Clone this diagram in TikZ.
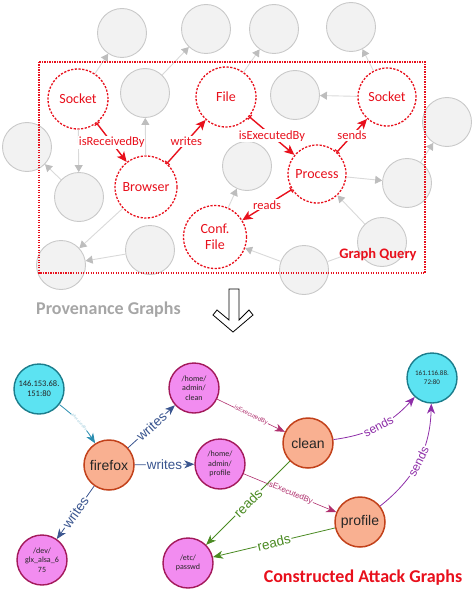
\documentclass[tikz,border=0pt]{standalone}
\usepackage{fontspec}
\setmainfont{Carlito}
\newfontfamily\arialf{Liberation Sans}
\usetikzlibrary{arrows.meta}
\definecolor{gfill}{HTML}{F2F2F2}
\definecolor{gdraw}{HTML}{C9C9C9}
\definecolor{gline}{HTML}{D9D9D9}
\definecolor{gtip}{HTML}{BDBDBD}
\definecolor{qred}{HTML}{E8101C}
\definecolor{cyfill}{HTML}{5CE3F2}
\definecolor{cydraw}{HTML}{1B7D8C}
\definecolor{pkfill}{HTML}{F28CF0}
\definecolor{pkdraw}{HTML}{A3195B}
\definecolor{orfill}{HTML}{F9B091}
\definecolor{ordraw}{HTML}{C2411A}
\definecolor{tealc}{HTML}{2A8DB0}
\definecolor{bluec}{HTML}{3A558F}
\definecolor{magc}{HTML}{B0306E}
\definecolor{purc}{HTML}{8E2EA8}
\definecolor{grnc}{HTML}{4A8A22}
\definecolor{provc}{HTML}{A6A6A6}
\begin{document}
\begin{tikzpicture}[x=1pt,y=1pt,
 gc/.style={circle,draw=gdraw,fill=gfill,line width=0.9pt,minimum size=49pt,inner sep=0pt},
 rq/.style={circle,draw=qred,fill=white,line width=1.3pt,dash pattern=on 2.2pt off 1.5pt,inner sep=0pt,text=qred,font=\fontsize{14}{16}\selectfont,align=center},
 garr/.style={draw=gline,line width=0.9pt,-{Triangle[length=7pt,width=8pt,color=gtip]}},
 rarr/.style={draw=qred,line width=1.4pt,{Bar[width=6pt,line width=1.2pt]}-{Stealth[length=10pt,width=9pt,inset=2.5pt]}},
 rlab/.style={fill=white,inner sep=1pt,text=qred,font=\fontsize{12.5}{12.5}\selectfont},
 cyn/.style={circle,fill=cyfill,draw=cydraw,line width=1.4pt,minimum size=50pt,inner sep=0pt,align=center,font=\fontsize{8.5}{10}\selectfont,text=black!85},
 pkn/.style={circle,fill=pkfill,draw=pkdraw,line width=1.4pt,minimum size=50pt,inner sep=0pt,align=center,font=\fontsize{8}{9.5}\selectfont,text=black!85},
 orn/.style={circle,fill=orfill,draw=ordraw,line width=1.5pt,minimum size=50pt,inner sep=0pt,font=\arialf\fontsize{14}{16}\selectfont,text=black!85},
 blab/.style={fill=white,inner sep=1pt,sloped,font=\arialf\fontsize{13.5}{13.5}\selectfont},
 atip/.style={-{Stealth[length=10pt,width=8pt,inset=3pt]}}
]
\useasboundingbox (0,0) rectangle (474,-591);
% ---------- grey provenance nodes ----------
\node[gc] (g1) at (122,-33) {};
\node[gc] (g2) at (206,-29) {};
\node[gc] (g3) at (274,-29) {};
\node[gc] (g4) at (351,-27) {};
\node[gc] (g5) at (145,-93) {};
\node[gc] (g6) at (27,-147) {};
\node[gc] (g7) at (79,-197) {};
\node[gc] (g8) at (61,-265) {};
\node[gc] (g9) at (150,-250) {};
\node[gc] (g10) at (247,-166) {};
\node[gc] (g11) at (295,-95) {};
\node[gc] (g12) at (447,-122) {};
\node[gc] (g13) at (407,-183) {};
\node[gc] (g14) at (382,-242) {};
\node[gc] (g15) at (304,-270) {};
% ---------- query nodes ----------
\node[rq,minimum size=60pt] (sL) at (78,-99) {Socket};
\node[rq,minimum size=60pt] (fl) at (226,-97) {File};
\node[rq,minimum size=58pt] (sR) at (387,-97) {Socket};
\node[rq,minimum size=62pt] (br) at (146,-187) {Browser};
\node[rq,minimum size=58pt] (pr) at (317,-174) {Process};
\node[rq,minimum size=63pt] (cf) at (215,-237) {Conf.\\File};
% grey edges
\draw[garr] (sL) -- (g1);
\draw[garr] (g5) -- (g2);
\draw[garr] (fl) -- (g3);
\draw[garr] (sR) -- (g4);
\draw[garr] (sR) -- (g11);
\draw[garr] (br) -- (g5);
\draw[garr] (sL) -- (g7);
\draw[garr] (g7) -- (g6);
\draw[garr] (br) -- (g8);
\draw[garr] (g9) -- (g8);
\draw[garr] (cf) -- (g10);
\draw[garr] (pr) -- (g13);
\draw[garr] (g14) -- (pr);
\draw[garr] (g15) -- (cf);
\draw[draw=gline,line width=0.9pt] (g15) -- (g14);
\draw[garr] (g13) -- (g12);
% red query edges
\draw[rarr] (sL) -- node[rlab]{isReceivedBy} (br);
\draw[rarr] (br) -- node[rlab]{writes} (fl);
\draw[rarr] (fl) -- node[rlab]{isExecutedBy} (pr);
\draw[rarr] (pr) -- node[rlab]{sends} (sR);
\draw[rarr] (pr) -- node[rlab]{reads} (cf);
% query box
\draw[draw=qred,line width=1.1pt,dash pattern=on 1.4pt off 1.1pt] (39,-62) rectangle (425,-273);
\node[text=qred,font=\bfseries\fontsize{14.5}{15}\selectfont] (gq) at (378,-255) {Graph Query};
% caption and arrow
\node[text=provc,font=\bfseries\fontsize{18}{18}\selectfont,anchor=west,inner sep=0pt] (pg) at (36,-310) {Provenance Graphs};
\draw[line width=0.8pt] (229,-289) -- (239,-289) -- (239,-320) -- (249,-310) -- (253,-315) -- (233,-332) -- (213,-315) -- (217,-310) -- (229,-320) -- cycle;
% ---------- attack graph ----------
\node[cyn] (c1) at (39,-389) {146.153.68.\\151:80};
\node[cyn,font=\fontsize{7}{9}\selectfont] (c2) at (432,-378) {161.116.88.\\72:80};
\node[pkn] (f1) at (194,-388) {/home/\\admin/\\clean};
\node[pkn] (f2) at (220,-464) {/home/\\admin/\\profile};
\node[pkn] (dv) at (42,-560) {/dev/\\glx\_alsa\_6\\75};
\node[pkn] (pw) at (188,-563) {/etc/\\passwd};
\node[orn] (ff) at (109,-465) {firefox};
\node[orn] (cl) at (308,-443) {clean};
\node[orn] (pf) at (360,-522) {profile};
\draw[tealc,line width=0.8pt,atip] (c1) to[bend left=10] node[sloped,fill=white,inner sep=0.5pt,text=tealc!45,font=\fontsize{4}{4}\selectfont]{isReceivedBy} (ff);
\draw[bluec,line width=0.8pt,atip] (ff) -- node[blab,text=bluec]{writes} (f1);
\draw[bluec,line width=0.8pt,atip] (ff) -- node[blab,text=bluec]{writes} (f2);
\draw[bluec,line width=0.8pt,atip] (ff) -- node[blab,text=bluec]{writes} (dv);
\draw[magc,line width=0.6pt,atip] (f1) -- node[sloped,fill=white,inner sep=0.5pt,text=magc,font=\arialf\fontsize{6}{6}\selectfont]{isExecutedBy} (cl);
\draw[magc,line width=0.6pt,atip] (f2) -- node[sloped,fill=white,inner sep=0.5pt,text=magc,font=\arialf\fontsize{8}{8}\selectfont]{isExecutedBy} (pf);
\draw[purc,line width=0.8pt,atip] (cl) to[bend right=20] node[blab,text=purc,font=\arialf\fontsize{12}{12}\selectfont]{sends} (c2);
\draw[purc,line width=0.8pt,atip] (pf) to[bend right=25] node[blab,text=purc,font=\arialf\fontsize{12}{12}\selectfont]{sends} (c2);
\draw[grnc,line width=0.8pt,atip] (cl) -- node[blab,text=grnc]{reads} (pw);
\draw[grnc,line width=0.8pt,atip] (pf) -- node[blab,text=grnc]{reads} (pw);
\node[text=qred,font=\bfseries\fontsize{18}{18}\selectfont] (cag) at (363,-578) {Constructed Attack Graphs};
\end{tikzpicture}
\end{document}
